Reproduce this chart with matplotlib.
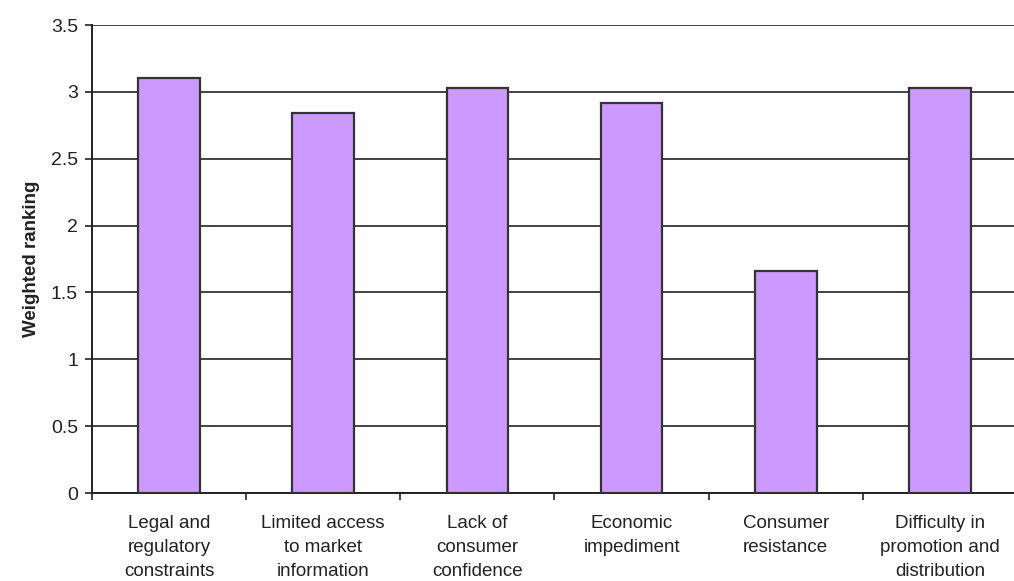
import numpy as np
import matplotlib.pyplot as plt

plt.rcParams['font.family'] = ['Liberation Sans', 'DejaVu Sans']

categories = ['Legal and\nregulatory\nconstraints',
              'Limited access\nto market\ninformation',
              'Lack of\nconsumer\nconfidence',
              'Economic\nimpediment',
              'Consumer\nresistance',
              'Difficulty in\npromotion and\ndistribution']
ranking = [3.10, 2.84, 3.03, 2.92, 1.66, 3.03]
yticks = [0, 0.5, 1, 1.5, 2, 2.5, 3, 3.5]
yticklabels = ['0', '0.5', '1', '1.5', '2', '2.5', '3', '3.5']

fig = plt.figure(figsize=(10.14, 5.81), dpi=100)
ax = fig.add_axes([92 / 1014, 88 / 581, 925 / 1014, 468 / 581])

x = np.arange(len(categories))
ax.yaxis.grid(True, color='#222222', linewidth=1.2)
ax.set_axisbelow(True)
ax.bar(x, ranking, width=0.4, color='#CC99FF', edgecolor='#333333',
       linewidth=1.6, zorder=3)

ax.set_xlim(-0.5, len(categories) - 0.5)
ax.set_ylim(0, 3.5)
ax.set_yticks(yticks)
ax.set_yticklabels(yticklabels, fontsize=14, color='#222222')

# boundary ticks between categories, labels at bar centres
ax.set_xticks(np.arange(len(categories) + 1) - 0.5)
ax.set_xticklabels([])
ax.set_xticks(x, minor=True)
ax.set_xticklabels(categories, minor=True, fontsize=13.5, linespacing=1.52,
                   color='#222222')
ax.tick_params(axis='x', which='minor', length=0, pad=16)
ax.tick_params(axis='x', which='major', length=5, width=1.2, color='#222222')
ax.tick_params(axis='y', length=5, width=1.2, color='#222222', pad=5)

for s in ['top', 'right']:
    ax.spines[s].set_visible(False)
for s in ['left', 'bottom']:
    ax.spines[s].set_linewidth(1.4)
    ax.spines[s].set_color('#222222')

ax.set_ylabel('Weighted ranking', fontsize=13.5, fontweight='bold',
              color='#222222', labelpad=8)

fig.savefig('out.png', dpi=100)
